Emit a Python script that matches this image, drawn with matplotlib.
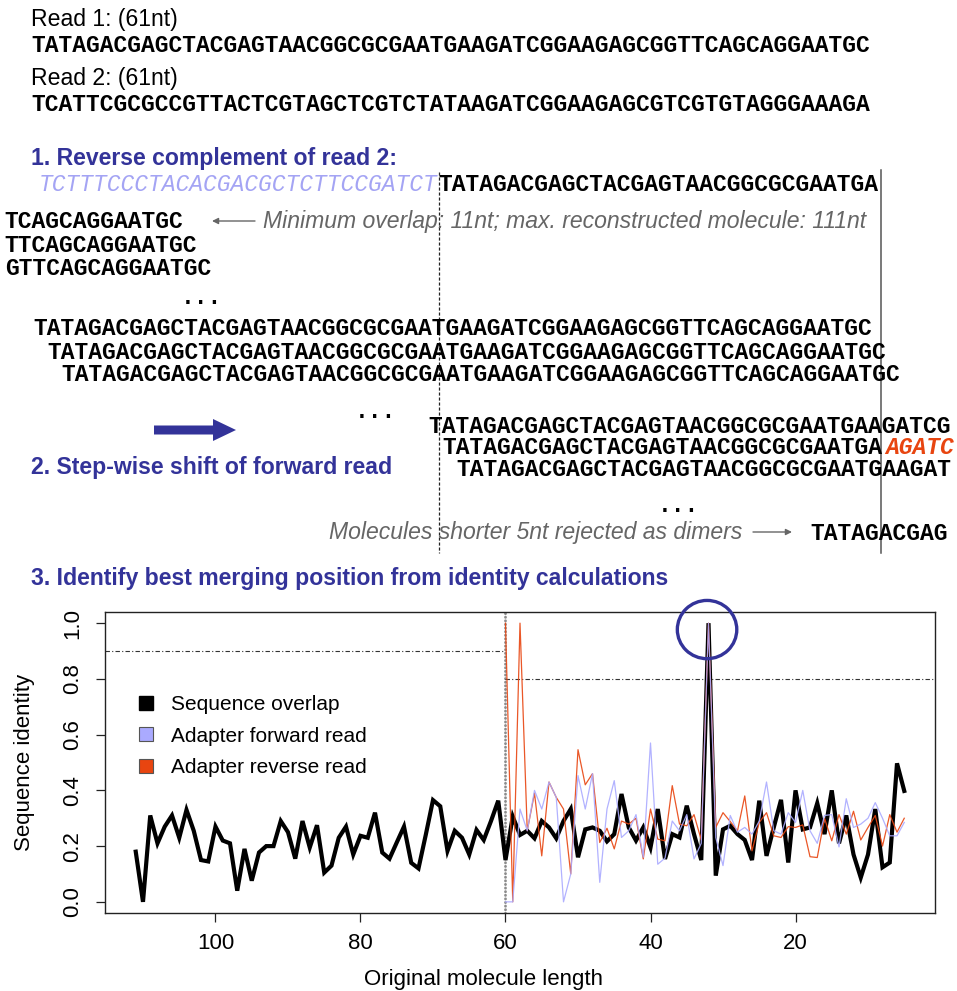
import matplotlib
matplotlib.use('Agg')
import matplotlib.pyplot as plt
from matplotlib.patches import Ellipse, FancyArrow
from matplotlib.lines import Line2D

# ---------------- data ----------------
read1 = "TATAGACGAGCTACGAGTAACGGCGCGAATGAAGATCGGAAGAGCGGTTCAGCAGGAATGC"
read2 = "TCATTCGCGCCGTTACTCGTAGCTCGTCTATAAGATCGGAAGAGCGTCGTGTAGGGAAAGA"
adapter_rc = "TCTTTCCCTACACGACGCTCTTCCGATCT"
insert_seq = "TATAGACGAGCTACGAGTAACGGCGCGAATGA"
adapter_fwd_tail = "AGATC"

lengths_overlap = list(range(111, 4, -1))
identity_overlap = [
    0.18, 0.00, 0.31, 0.21, 0.27, 0.31, 0.23, 0.33, 0.255, 0.15,      # 111-102
    0.145, 0.27, 0.22, 0.21, 0.04, 0.19, 0.076, 0.177, 0.20, 0.20,    # 101-92
    0.29, 0.25, 0.155, 0.29, 0.195, 0.275, 0.105, 0.13, 0.23, 0.27,   # 91-82
    0.17, 0.237, 0.23, 0.32, 0.177, 0.155, 0.213, 0.27, 0.14, 0.12,   # 81-72
    0.24, 0.365, 0.343, 0.183, 0.255, 0.23, 0.17, 0.258, 0.222, 0.29, # 71-62
    0.363, 0.15, 0.306, 0.24, 0.255, 0.228, 0.29, 0.267, 0.228, 0.29, # 61-52
    0.333, 0.16, 0.26, 0.267, 0.255, 0.217, 0.243, 0.387, 0.267, 0.22,# 51-42
    0.267, 0.195, 0.333, 0.154, 0.243, 0.231, 0.345, 0.243, 0.15, 1.0,# 41-32
    0.094, 0.26, 0.273, 0.243, 0.222, 0.15, 0.363, 0.165, 0.267, 0.366,# 31-22
    0.141, 0.40, 0.26, 0.267, 0.354, 0.243, 0.40, 0.21, 0.31, 0.17,   # 21-12
    0.087, 0.17, 0.333, 0.124, 0.141, 0.497, 0.398,                   # 11-5
]

lengths_adapter = list(range(60, 4, -1))
identity_fwd = [
    0.0, 0.0, 0.333, 0.255, 0.40, 0.333, 0.43, 0.375, 0.0, 0.10,      # 60-51
    0.453, 0.333, 0.46, 0.07, 0.333, 0.435, 0.231, 0.255, 0.313, 0.16,# 50-41
    0.57, 0.135, 0.157, 0.29, 0.255, 0.313, 0.154, 0.21, 1.0, 0.231,  # 40-31
    0.13, 0.31, 0.25, 0.267, 0.243, 0.29, 0.43, 0.255, 0.243, 0.32,   # 30-21
    0.285, 0.40, 0.255, 0.21, 0.31, 0.313, 0.197, 0.37, 0.267, 0.279, # 20-11
    0.30, 0.356, 0.30, 0.237, 0.237, 0.285,                           # 10-5
]
identity_rev = [
    1.0, 0.0, 1.0, 0.255, 0.39, 0.165, 0.43, 0.375, 0.333, 0.10,      # 60-51
    0.546, 0.42, 0.46, 0.213, 0.264, 0.19, 0.29, 0.279, 0.30, 0.154,  # 50-41
    0.333, 0.225, 0.219, 0.417, 0.279, 0.273, 0.313, 0.222, 1.0, 0.267,# 40-31
    0.32, 0.288, 0.255, 0.38, 0.183, 0.285, 0.32, 0.237, 0.231, 0.27, # 30-21
    0.267, 0.276, 0.162, 0.159, 0.30, 0.219, 0.313, 0.243, 0.325, 0.222,# 20-11
    0.267, 0.31, 0.20, 0.313, 0.25, 0.30,                             # 10-5
]

xticks = [100, 80, 60, 40, 20]
yticks = [0.0, 0.2, 0.4, 0.6, 0.8, 1.0]
legend_labels = ["Sequence overlap", "Adapter forward read", "Adapter reverse read"]
read_cut = 60
threshold_long = 0.9
threshold_short = 0.8
best_pos = 32

# ---------------- style ----------------
W, H = 957, 991
SANS = 'Liberation Sans'
MONO = 'Liberation Mono'
DARKBLUE = '#333399'
LIGHTBLUE = '#AAAAFF'
RED = '#E84510'
GREY = '#666666'
FS = 16.6

fig = plt.figure(figsize=(W / 100, H / 100), dpi=100)
ov = fig.add_axes([0, 0, 1, 1], zorder=0)
ov.set_xlim(0, W)
ov.set_ylim(H, 0)
ov.set_axis_off()


def put(x, yc, s, family=SANS, weight='normal', style='normal', color='black',
        ha='left', size=FS):
    em = size * 100 / 72
    ov.text(x, yc + 0.34 * em, s, family=family, fontweight=weight,
            fontstyle=style, color=color, ha=ha, va='baseline', fontsize=size)


CW = 0.6 * FS * 100 / 72  # mono char width in px

# Header reads
put(31, 18, "Read 1: (61nt)")
put(31, 44, read1, family=MONO, weight='bold')
put(31, 77, "Read 2: (61nt)")
put(31, 103, read2, family=MONO, weight='bold')

# Step 1
put(31, 157, "1. Reverse complement of read 2:", weight='bold', color=DARKBLUE)
put(437, 183, adapter_rc, family=MONO, style='italic', color='#A4A4F4', ha='right')
put(438, 183, insert_seq, family=MONO, weight='bold')

put(183, 220, read1[-13:], family=MONO, weight='bold', ha='right')
put(197, 244, read1[-14:], family=MONO, weight='bold', ha='right')
put(211, 267, read1[-15:], family=MONO, weight='bold', ha='right')
ov.annotate('', xy=(212, 221), xytext=(255, 221),
            arrowprops=dict(arrowstyle='-|>', color=GREY, lw=1.0,
                            mutation_scale=9, shrinkA=0, shrinkB=0))
put(263, 220, "Minimum overlap: 11nt; max. reconstructed molecule: 111nt",
    style='italic', color=GREY)
put(201, 296, "...", family=MONO, weight='bold', ha='center')

put(33, 327, read1, family=MONO, weight='bold')
put(47, 351, read1, family=MONO, weight='bold')
put(61, 373, read1, family=MONO, weight='bold')
put(375, 410, "...", family=MONO, weight='bold', ha='center')

# Step 2
ov.add_patch(FancyArrow(154, 430, 82, 0, width=9, head_width=22,
                        head_length=23, length_includes_head=True,
                        color=DARKBLUE, lw=0))
put(31, 466, "2. Step-wise shift of forward read", weight='bold', color=DARKBLUE)
put(428.5, 425, read1[:38], family=MONO, weight='bold')
put(442.3, 446, insert_seq, family=MONO, weight='bold')
put(442.3 + len(insert_seq) * CW, 446, adapter_fwd_tail, family=MONO,
    weight='bold', style='italic', color=RED)
put(456, 468, read1[:36], family=MONO, weight='bold')
put(678, 504, "...", family=MONO, weight='bold', ha='center')
put(329, 531, "Molecules shorter 5nt rejected as dimers", style='italic', color=GREY)
ov.annotate('', xy=(792, 532), xytext=(753, 532),
            arrowprops=dict(arrowstyle='-|>', color=GREY, lw=1.0,
                            mutation_scale=9, shrinkA=0, shrinkB=0))
put(810, 532, read1[:10], family=MONO, weight='bold')

# vertical guide lines
ov.plot([439, 439], [172, 553], color='#222222', lw=0.9, ls=(0, (2.5, 1.5)))
ov.plot([880.5, 880.5], [170, 553], color='#555555', lw=1.1)

# Step 3
put(31, 577, "3. Identify best merging position from identity calculations",
    weight='bold', color=DARKBLUE)

# ---------------- plot ----------------
ax = fig.add_axes([105 / W, (H - 913) / H, 830 / W, 301 / H], zorder=2)
ax.patch.set_alpha(0)
xl = (115.24, 0.76)
ax.set_xlim(*xl)
ax.set_ylim(-0.04, 1.04)

ax.axvline(read_cut, color='#8c8c8c', lw=2.0, ls=(0, (0.1, 1.2)),
           dash_capstyle='round', zorder=1)
ax.hlines(threshold_long, xl[0], read_cut, color='#333333', lw=0.8,
          linestyles=[(0, (4, 2, 1, 2))], zorder=1)
ax.hlines(threshold_short, read_cut, xl[1], color='#333333', lw=0.8,
          linestyles=[(0, (4, 2, 1, 2))], zorder=1)

ax.plot(lengths_overlap, identity_overlap, color='black', lw=3.0,
        solid_joinstyle='miter', zorder=2)
ax.plot(lengths_adapter, identity_rev, color=RED, lw=0.9, alpha=0.9, zorder=3)
ax.plot(lengths_adapter, identity_fwd, color=LIGHTBLUE, lw=0.9, alpha=0.9, zorder=4)

ax.add_patch(Ellipse((best_pos + 0.2, 0.977), 8.2, 0.209, fill=False,
                     edgecolor=DARKBLUE, lw=2.4, clip_on=False, zorder=5))

ax.set_xticks(xticks)
ax.set_yticks(yticks)
ax.set_yticklabels([f"{v:.1f}" for v in yticks])
ax.tick_params(direction='out', length=6.5, width=0.9, color='#222222',
               labelsize=16)
ax.tick_params(axis='x', pad=8)
ax.tick_params(axis='y', pad=9)
for lab in ax.get_xticklabels() + ax.get_yticklabels():
    lab.set_family(SANS)
for lab in ax.get_yticklabels():
    lab.set_rotation(90)
    lab.set_va('center')
for sp in ax.spines.values():
    sp.set_color('#222222')
    sp.set_linewidth(1.0)

ax.set_xlabel("Original molecule length", fontsize=16, family=SANS)
ax.set_ylabel("Sequence identity", fontsize=16, family=SANS)
ax.xaxis.set_label_coords((483 - 105) / 830, (913 - 969) / 301)
ax.yaxis.set_label_coords((35 - 105) / 830, 0.5)
ax.xaxis.label.set_va('top')

handles = [
    Line2D([], [], ls='', marker='s', markersize=9.5, markerfacecolor='black',
           markeredgecolor='black'),
    Line2D([], [], ls='', marker='s', markersize=9.5, markerfacecolor=LIGHTBLUE,
           markeredgecolor='#555555', markeredgewidth=0.8),
    Line2D([], [], ls='', marker='s', markersize=9.5, markerfacecolor=RED,
           markeredgecolor='#555555', markeredgewidth=0.8),
]
leg = ax.legend(handles, legend_labels, loc='upper left',
                bbox_to_anchor=((137.7 - 105) / 830, (913 - 695) / 301),
                frameon=False, borderpad=0, borderaxespad=0,
                handlelength=0.8, handletextpad=0.8, labelspacing=0.6,
                prop={'family': SANS, 'size': 15})

fig.savefig('out.png', dpi=100)
